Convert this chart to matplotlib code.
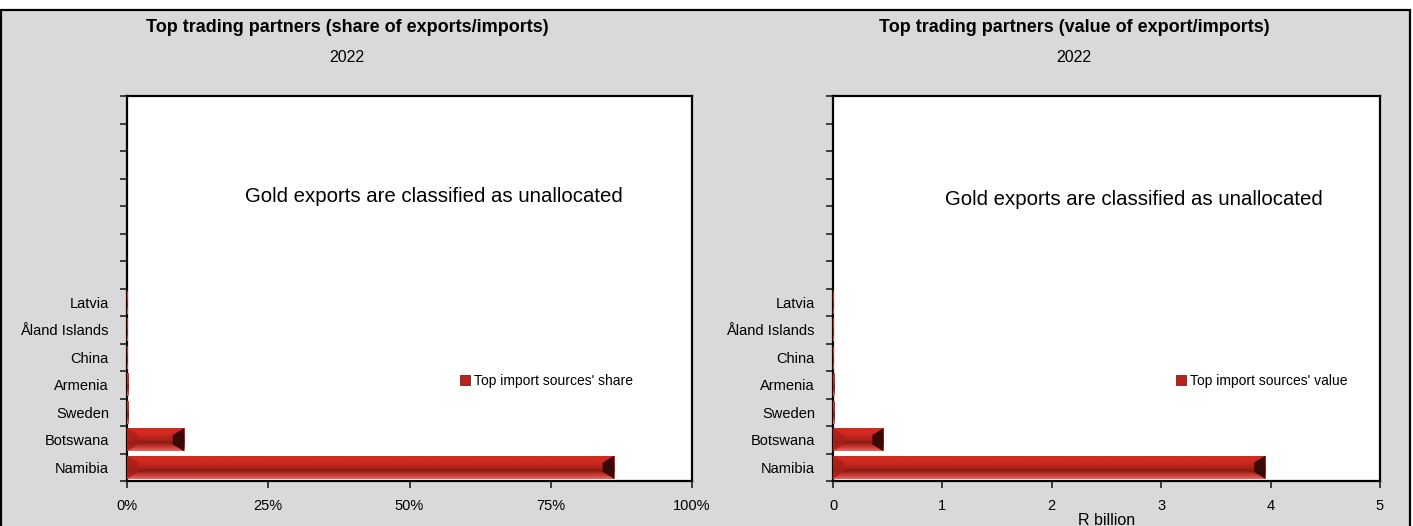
import matplotlib
matplotlib.use("Agg")
import matplotlib.pyplot as plt
import numpy as np
from matplotlib import font_manager
from matplotlib.patches import Rectangle, Polygon, Patch
import matplotlib.colors as mcolors

# ---------------- data ----------------
countries = ["Namibia", "Botswana", "Sweden", "Armenia", "China", "Åland Islands", "Latvia"]
share_pct = [86.2, 10.1, 0.3, 0.2, 0.15, 0.1, 0.1]
value_rbn = [3.95, 0.46, 0.014, 0.01, 0.007, 0.005, 0.004]
n_slots = 14
left_xticks = [0, 25, 50, 75, 100]
left_xticklabels = ["0%", "25%", "50%", "75%", "100%"]
right_xticks = [0, 1, 2, 3, 4, 5]
right_xticklabels = ["0", "1", "2", "3", "4", "5"]
title_left = "Top trading partners (share of exports/imports)"
title_right = "Top trading partners (value of export/imports)"
subtitle = "2022"
note = "Gold exports are classified as unallocated"
legend_left = "Top import sources' share"
legend_right = "Top import sources' value"
xlabel_right = "R billion"

# ---------------- fonts ----------------
names = {f.name for f in font_manager.fontManager.ttflist}
narrow = "Liberation Sans Narrow" if "Liberation Sans Narrow" in names else "Liberation Sans"
plt.rcParams["font.family"] = [narrow, "DejaVu Sans"]

W, H = 1413, 526
fig = plt.figure(figsize=(W / 100, H / 100), dpi=100)
fig.patch.set_facecolor("white")

# grey panel with black frame
bg = Rectangle((0.5 / W, -0.05), 1409 / W, (H - 10) / H + 0.05, transform=fig.transFigure,
               facecolor="#d9d9d9", edgecolor="black", linewidth=1.6, zorder=-10)
fig.patches.append(bg)

grad_cmap = mcolors.LinearSegmentedColormap.from_list(
    "bevel", [(0.0, "#e06a66"), (0.12, "#d8403a"), (0.35, "#8a1a14"),
              (0.5, "#b0231c"), (0.75, "#d42a20"), (1.0, "#cf2a22")])


def draw_bars(ax, values, xmax):
    ys = np.arange(len(values))
    h = 0.84
    bars = ax.barh(ys, values, height=h, color="#c8261e", edgecolor="none", zorder=2)
    grad = np.linspace(0, 1, 64).reshape(-1, 1)
    for b, v, y in zip(bars, values, ys):
        y0, y1 = y - h / 2, y + h / 2
        im = ax.imshow(grad, cmap=grad_cmap, aspect="auto", origin="lower",
                       extent=(0, v, y0, y1), zorder=3, interpolation="bilinear")
        im.set_clip_path(b)
        # bevel ends
        bw = xmax * 0.02
        inset = h * 0.3
        if v > 2 * bw:
            ax.add_patch(Polygon([(v - bw, y0 + inset), (v, y0), (v, y1), (v - bw, y1 - inset)],
                                 closed=True, facecolor="#3a0806", edgecolor="none", zorder=4))
            ax.add_patch(Polygon([(0, y0), (bw, y0 + inset), (bw, y1 - inset), (0, y1)],
                                 closed=True, facecolor="#a81e18", edgecolor="none", alpha=0.8, zorder=4))
    ax.set_xlim(0, xmax)
    ax.set_ylim(-0.5, n_slots - 0.5)


def style_axes(ax, xticks, xticklabels):
    ax.set_facecolor("white")
    for s in ax.spines.values():
        s.set_linewidth(1.6)
        s.set_color("black")
    ax.set_yticks(np.arange(len(countries)))
    ax.set_yticklabels(countries, fontsize=10.5)
    ax.tick_params(axis="y", which="major", length=0, pad=13)
    ax.set_yticks(np.arange(n_slots + 1) - 0.5, minor=True)
    ax.tick_params(axis="y", which="minor", length=5, width=1.2, direction="out", color="#222222")
    ax.set_xticks(xticks)
    ax.set_xticklabels(xticklabels, fontsize=10.5)
    ax.tick_params(axis="x", length=5, width=1.2, direction="out", pad=8, color="#222222")


axL = fig.add_axes([127 / W, (H - 481) / H, 565 / W, 385 / H])
draw_bars(axL, share_pct, 100)
style_axes(axL, left_xticks, left_xticklabels)
axL.text(0.5425, 0.7377, note, transform=axL.transAxes, ha="center", va="center", fontsize=14.7,
         family=["Liberation Sans", "DejaVu Sans"])
axL.legend(handles=[Patch(facecolor="#b8241c", edgecolor="#5a0e0a", linewidth=0.5, label=legend_left)],
           loc="center left", bbox_to_anchor=(0.59, 0.26), frameon=False, fontsize=10,
           handlelength=0.7, handleheight=0.7, handletextpad=0.3, borderpad=0, borderaxespad=0)

axR = fig.add_axes([833 / W, (H - 481) / H, 547 / W, 385 / H])
draw_bars(axR, value_rbn, 5)
style_axes(axR, right_xticks, right_xticklabels)
axR.text(0.55, 0.73, note, transform=axR.transAxes, ha="center", va="center", fontsize=14.7,
         family=["Liberation Sans", "DejaVu Sans"])
axR.legend(handles=[Patch(facecolor="#b8241c", edgecolor="#5a0e0a", linewidth=0.5, label=legend_right)],
           loc="center left", bbox_to_anchor=(0.627, 0.26), frameon=False, fontsize=10,
           handlelength=0.7, handleheight=0.7, handletextpad=0.3, borderpad=0, borderaxespad=0)
axR.set_xlabel(xlabel_right, fontsize=11.5, labelpad=0)

fig.text(347 / W, 1 - 27 / H, title_left, ha="center", va="center", fontsize=13, fontweight="bold")
fig.text(347 / W, 1 - 58 / H, subtitle, ha="center", va="center", fontsize=11.5)
fig.text(1074 / W, 1 - 27 / H, title_right, ha="center", va="center", fontsize=13, fontweight="bold")
fig.text(1074 / W, 1 - 58 / H, subtitle, ha="center", va="center", fontsize=11.5)

fig.savefig("out.png", dpi=100)
